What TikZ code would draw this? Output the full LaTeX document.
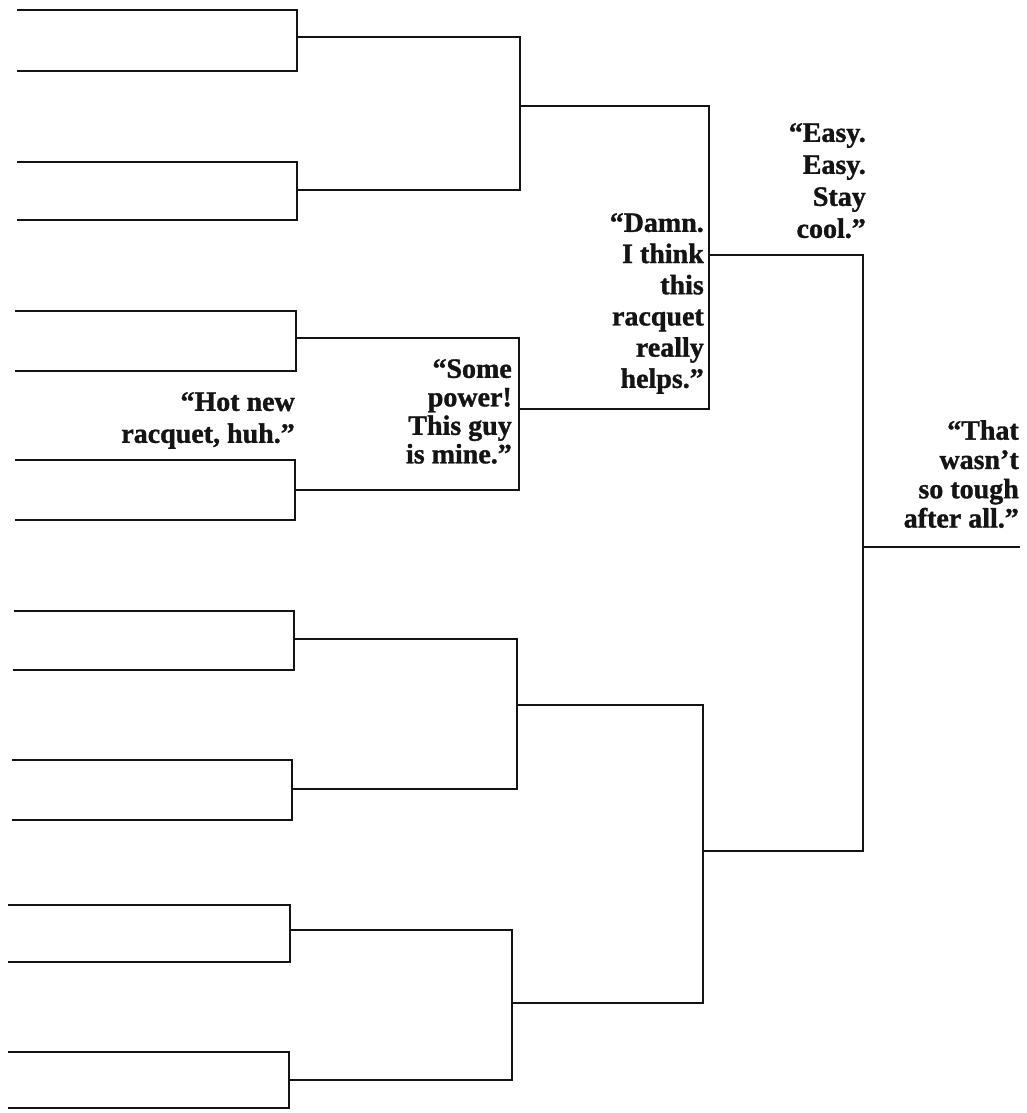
\documentclass[tikz,border=0pt]{standalone}
\usepackage{fontspec}
\setmainfont{Liberation Serif}
\newfontfamily\quotefont[FakeBold=1.2]{Liberation Serif Bold}
\begin{document}
\begin{tikzpicture}[x=1pt,y=-1pt,
  bline/.style={line width=2.9pt,line join=miter,line cap=butt,black!92},
  quote/.style={inner sep=0pt,align=right,anchor=north east,text=black!92,
    font=\quotefont\fontsize{28}{#1}\selectfont}]
\useasboundingbox[fill=white] (0,0) rectangle (1027,1113);
% entry lines: name/y/left x/right x
\foreach \i/\y/\xl/\xr in {1/10/17/297,2/71/17/297,3/162/17/297,4/220/17/297,
  5/311/15/296,6/371/15/296,7/460/15/295,8/520/15/295,
  9/611/14/294,10/670/13/294,11/760/12/292,12/820/12/292,
  13/905/8/290,14/962/8/290,15/1052/8/289,16/1108/8/289}{
  \coordinate (e\i) at (\xl,\y);
  \coordinate (f\i) at (\xr,\y);
}
% round-1 junctions
\foreach \k/\x/\y in {1/297/37,2/297/190,3/296/338,4/295/490,
  5/294/639,6/292/789,7/290/930,8/289/1080}{
  \coordinate (m\k) at (\x,\y);
}
% round-2 corners
\foreach \k/\x in {1/520,2/520,3/519,4/519,5/517,6/517,7/512,8/512}{
  \coordinate (t\k) at (\x,0 |- m\k);
}
\coordinate (n1) at (520,106);
\coordinate (n2) at (519,409);
\coordinate (n3) at (517,705);
\coordinate (n4) at (512,1003);
% round-3 corners
\coordinate (u1) at (709,106);
\coordinate (u2) at (709,409);
\coordinate (u3) at (703,705);
\coordinate (u4) at (703,1003);
\coordinate (p1) at (709,255);
\coordinate (p2) at (703,851);
% final
\coordinate (v1) at (863,255);
\coordinate (v2) at (863,851);
\coordinate (q) at (863,547);
\coordinate (w) at (1020,547);

\foreach \k [evaluate=\k as \a using int(2*\k-1), evaluate=\k as \b using int(2*\k)] in {1,...,8}{
  \draw[bline] (e\a) -- (f\a) -- (f\b) -- (e\b);
}
\foreach \k [evaluate=\k as \a using int(2*\k-1), evaluate=\k as \b using int(2*\k)] in {1,...,4}{
  \draw[bline] (m\a) -- (t\a) -- (t\b) -- (m\b);
}
\draw[bline] (n1) -- (u1) -- (u2) -- (n2);
\draw[bline] (n3) -- (u3) -- (u4) -- (n4);
\draw[bline] (p1) -- (v1) -- (v2) -- (p2);
\draw[bline] (q) -- (w);

\node[quote=32] (hot) at (295,392) {“Hot new\\racquet, huh.”};
\node[quote=28.5] (some) at (512,359) {“Some\\power!\\This guy\\is mine.”};
\node[quote=31.2] (damn) at (704,213) {“Damn.\\I think\\this\\racquet\\really\\helps.”};
\node[quote=32] (easy) at (866,123) {“Easy.\\Easy.\\Stay\\cool.”};
\node[quote=29.3] (that) at (1019,420) {“That\\wasn’t\\so tough\\after all.”};
\end{tikzpicture}
\end{document}
